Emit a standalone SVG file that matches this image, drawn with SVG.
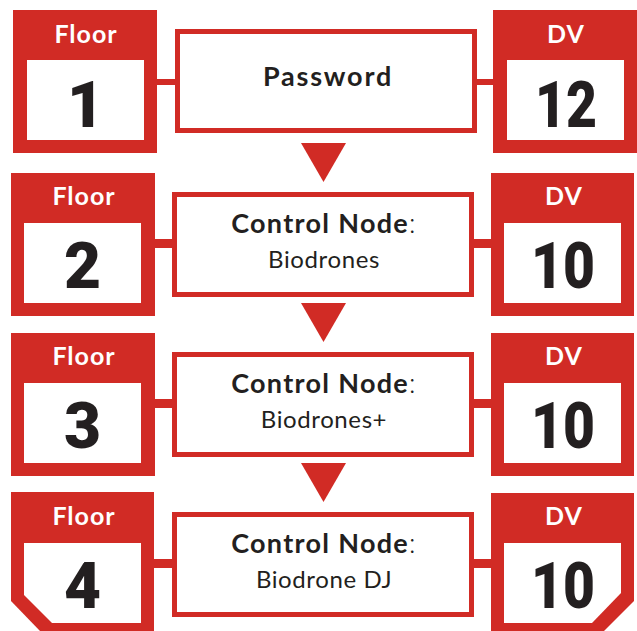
<svg xmlns="http://www.w3.org/2000/svg" width="637" height="631" viewBox="0 0 637 631">
<style>
.red{fill:#d12b25}
.wh{fill:#ffffff}
.box{fill:#ffffff;stroke:#d12b25;stroke-width:5}
.hd{font-family:"Lato","Noto Sans",sans-serif;font-weight:700;font-size:25px;letter-spacing:1px;fill:#ffffff;text-anchor:middle}
.num{font-family:"Roboto","Liberation Sans",sans-serif;font-weight:900;font-size:64px;fill:#231f20;text-anchor:middle}
.b{font-family:"Lato","Noto Sans",sans-serif;font-weight:700;font-size:27px;letter-spacing:1.3px;fill:#231f20;text-anchor:middle}
.pw{letter-spacing:1.8px}
.l{font-family:"Lato","Noto Sans",sans-serif;font-weight:400;font-size:24px;letter-spacing:0.6px;fill:#231f20;text-anchor:middle}
.c{font-weight:300}
</style>
<g id="connectors">
<rect class="red" x="155" y="79" width="22" height="6"/>
<rect class="red" x="475" y="79" width="20" height="6"/>
<polygon class="red" points="301,143 346,143 323.5,182"/>
<rect class="red" x="153" y="239" width="21" height="9"/>
<rect class="red" x="472" y="239" width="21" height="9"/>
<polygon class="red" points="301,303 346,303 323.5,342"/>
<rect class="red" x="153" y="399" width="21" height="9"/>
<rect class="red" x="472" y="399" width="21" height="9"/>
<polygon class="red" points="301,463 346,463 323.5,502"/>
<rect class="red" x="153" y="559" width="21" height="9"/>
<rect class="red" x="472" y="559" width="21" height="9"/>
</g>
<g id="floor1">
<rect class="red" x="13" y="10" width="144" height="143"/>
<rect class="wh" x="27" y="60" width="117" height="80"/>
<text class="hd" x="86" y="43">Floor</text>
<text class="num" x="85.5" y="127">1</text>
</g>
<g id="node1">
<rect class="box" x="177.5" y="31.5" width="297" height="99"/>
<text class="b pw" x="328" y="86">Password</text>
</g>
<g id="dv1">
<rect class="red" x="493" y="10" width="144" height="143"/>
<rect class="wh" x="507" y="60" width="117" height="80"/>
<text class="hd" x="566" y="43">DV</text>
<text class="num" x="566" y="127" textLength="62" lengthAdjust="spacingAndGlyphs">12</text>
</g>
<g id="floor2">
<rect class="red" x="11" y="173" width="144" height="143"/>
<rect class="wh" x="24" y="223" width="117" height="80"/>
<text class="hd" x="84" y="205">Floor</text>
<text class="num" x="82.5" y="288">2</text>
</g>
<g id="node2">
<rect class="box" x="174.5" y="194.5" width="297" height="100"/>
<text class="b" x="324" y="233">Control Node<tspan class="c">:</tspan></text>
<text class="l" x="324" y="268">Biodrones</text>
</g>
<g id="dv2">
<rect class="red" x="491" y="173" width="143" height="143"/>
<rect class="wh" x="504" y="223" width="117" height="80"/>
<text class="hd" x="564" y="205">DV</text>
<text class="num" x="563" y="288" textLength="64" lengthAdjust="spacingAndGlyphs">10</text>
</g>
<g id="floor3">
<rect class="red" x="11" y="333" width="144" height="143"/>
<rect class="wh" x="24" y="383" width="117" height="80"/>
<text class="hd" x="84" y="365">Floor</text>
<text class="num" x="82.5" y="448">3</text>
</g>
<g id="node3">
<rect class="box" x="174.5" y="354.5" width="297" height="100"/>
<text class="b" x="324" y="393">Control Node<tspan class="c">:</tspan></text>
<text class="l" x="324" y="428">Biodrones+</text>
</g>
<g id="dv3">
<rect class="red" x="491" y="333" width="143" height="143"/>
<rect class="wh" x="504" y="383" width="117" height="80"/>
<text class="hd" x="564" y="365">DV</text>
<text class="num" x="563" y="448" textLength="64" lengthAdjust="spacingAndGlyphs">10</text>
</g>
<g id="floor4">
<path class="red" d="M11,492 H154 V631 H40 L11,601 Z"/>
<path class="wh" d="M24,543 H141 V623 H52 L24,595 Z"/>
<text class="hd" x="84" y="525">Floor</text>
<text class="num" x="82.5" y="608">4</text>
</g>
<g id="node4">
<rect class="box" x="174.5" y="514.5" width="297" height="100"/>
<text class="b" x="324" y="553">Control Node<tspan class="c">:</tspan></text>
<text class="l" x="324" y="588">Biodrone DJ</text>
</g>
<g id="dv4">
<path class="red" d="M491,493 H634 V601 L604,631 H491 Z"/>
<path class="wh" d="M504,543 H621 V593 L592,623 H504 Z"/>
<text class="hd" x="564" y="525">DV</text>
<text class="num" x="563" y="608" textLength="64" lengthAdjust="spacingAndGlyphs">10</text>
</g>
</svg>
